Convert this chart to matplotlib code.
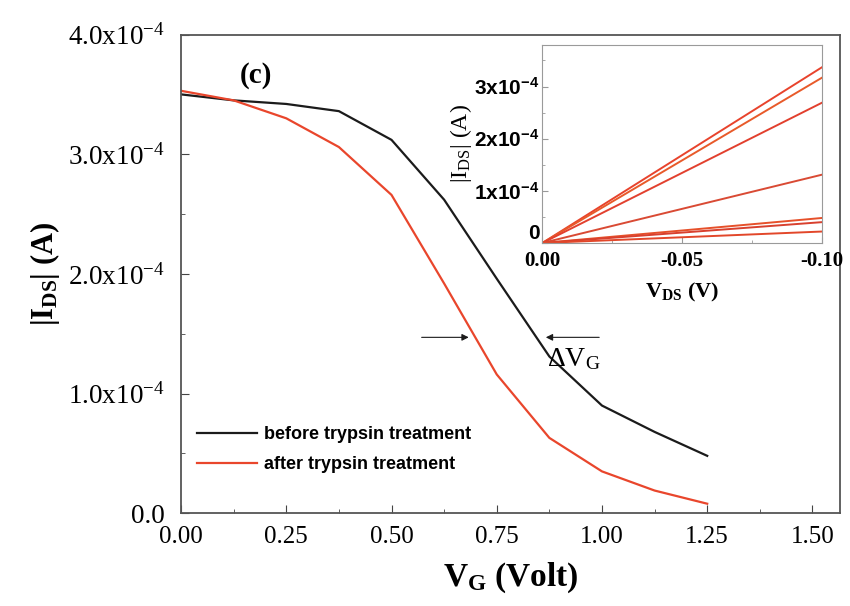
import matplotlib
matplotlib.use("Agg")
import matplotlib.pyplot as plt
from matplotlib.ticker import FixedLocator, MultipleLocator

plt.rcParams['font.family'] = ['Liberation Serif', 'DejaVu Serif']
plt.rcParams['mathtext.fontset'] = 'custom'
plt.rcParams['mathtext.rm'] = 'Liberation Serif'
plt.rcParams['mathtext.bf'] = 'Liberation Serif:bold'
plt.rcParams['mathtext.sf'] = 'Liberation Sans:bold'

# main transfer curves
vg = [0.0, 0.125, 0.25, 0.375, 0.5, 0.625, 0.75, 0.875, 1.0, 1.125, 1.25]
ids_before = [3.50e-4, 3.45e-4, 3.42e-4, 3.36e-4, 3.12e-4, 2.62e-4, 1.96e-4,
              1.31e-4, 0.90e-4, 0.68e-4, 0.48e-4]
ids_after = [3.53e-4, 3.45e-4, 3.30e-4, 3.06e-4, 2.66e-4, 1.92e-4, 1.16e-4,
             0.63e-4, 0.35e-4, 0.19e-4, 0.08e-4]
labels = ['before trypsin treatment', 'after trypsin treatment']

y_ticks = [0.0, 1.0e-4, 2.0e-4, 3.0e-4, 4.0e-4]
y_ticklabels = ['0.0', r'$\mathregular{1.0x10^{-4}}$', r'$\mathregular{2.0x10^{-4}}$',
                r'$\mathregular{3.0x10^{-4}}$', r'$\mathregular{4.0x10^{-4}}$']
x_ticks = [0.0, 0.25, 0.5, 0.75, 1.0, 1.25, 1.5]

# inset output curves (end values at Vds = -0.1 V)
vds = [0.0, -0.1]
inset_ends = [3.37e-4, 3.17e-4, 2.69e-4, 1.31e-4, 0.48e-4, 0.40e-4, 0.22e-4]
inset_colors = ['#e8432c', '#e85a2a', '#e2402e', '#d94a34', '#e6502a', '#d8402e', '#e2472a']
inset_yticklabels = ['0', r'$\mathsf{1x10^{-4}}$', r'$\mathsf{2x10^{-4}}$', r'$\mathsf{3x10^{-4}}$']

black = '#1b1b1b'
red = '#e9462c'

fig = plt.figure(figsize=(8.5, 6.06), dpi=100)
ax = fig.add_axes([0.213, 0.153, 0.775, 0.79])
ax.plot(vg, ids_before, color=black, lw=1.6, label=labels[0])
ax.plot(vg, ids_after, color=red, lw=1.6, label=labels[1])
ax.set_xlim(0, 1.565)
ax.set_ylim(0, 4.0e-4)
ax.xaxis.set_major_locator(FixedLocator(x_ticks))
ax.xaxis.set_minor_locator(MultipleLocator(0.125))
ax.yaxis.set_major_locator(FixedLocator(y_ticks))
ax.yaxis.set_minor_locator(MultipleLocator(0.5e-4))
ax.set_xticklabels(['%.2f' % v for v in x_ticks])
ax.set_yticklabels(y_ticklabels)
ax.tick_params(which='both', direction='in', color='#444444')
ax.tick_params(axis='x', labelsize=18, pad=9)
ax.tick_params(axis='y', labelsize=19.5, pad=12)
ax.tick_params(which='major', length=6)
ax.tick_params(which='minor', length=3)
for s in ax.spines.values():
    s.set_color('#555555')
    s.set_linewidth(1.3)
ax.set_xlabel(r'$\mathbf{V_G}$ (Volt)', fontsize=24, fontweight='bold', labelpad=9)
ax.set_ylabel(r'$\mathbf{|I_{DS}|}$ (A)', fontsize=22, fontweight='bold', labelpad=4)

ax.text(0.14, 3.6e-4, '(c)', fontsize=21, fontweight='bold')

# delta Vg arrows
ay = 1.47e-4
ax.annotate('', xy=(0.69, ay), xytext=(0.565, ay),
            arrowprops=dict(arrowstyle='-|>', color=black, lw=0.8, mutation_scale=10))
ax.annotate('', xy=(0.86, ay), xytext=(1.0, ay),
            arrowprops=dict(arrowstyle='-|>', color=black, lw=0.8, mutation_scale=10))
ax.text(0.87, 1.23e-4, r'$\mathregular{\Delta V_G}$', fontsize=20)

leg = ax.legend(loc='lower left', bbox_to_anchor=(0.0, 0.05), frameon=False,
                prop={'family': 'Liberation Sans', 'weight': 'bold', 'size': 13},
                handlelength=3.3, handletextpad=0.4, labelspacing=0.7)

# inset
ins = fig.add_axes([0.638, 0.599, 0.329, 0.327])
for end, c in zip(inset_ends, inset_colors):
    ins.plot(vds, [0.0, end], color=c, lw=1.4)
ins.set_xlim(0.0, -0.1)
ins.set_ylim(0, 3.8e-4)
ins.xaxis.set_major_locator(FixedLocator([0.0, -0.05, -0.1]))
ins.xaxis.set_minor_locator(MultipleLocator(0.025))
ins.set_xticklabels(['0.00', '-0.05', '-0.10'], fontweight='bold', fontsize=15)
ins.yaxis.set_major_locator(FixedLocator([0, 1e-4, 2e-4, 3e-4]))
ins.yaxis.set_minor_locator(MultipleLocator(0.5e-4))
ins.set_yticklabels(inset_yticklabels, fontsize=15)
ins.get_yticklabels()[0].set_fontfamily('Liberation Sans')
ins.get_yticklabels()[0].set_fontweight('bold')
ins.get_yticklabels()[0].set_verticalalignment('bottom')
ins.tick_params(which='both', direction='in', color='#999999')
ins.tick_params(axis='y', pad=2)
ins.tick_params(axis='x', pad=6)
ins.tick_params(which='major', length=4)
ins.tick_params(which='minor', length=2)
for s in ins.spines.values():
    s.set_color('#9a9a9a')
ins.set_xlabel(r'$\mathbf{V_{DS}}$ (V)', fontsize=16, fontweight='bold', labelpad=7)
ins.set_ylabel(r'$\mathregular{|I_{DS}|}$ (A)', fontsize=17, labelpad=0)

fig.savefig('out.png', dpi=100)
